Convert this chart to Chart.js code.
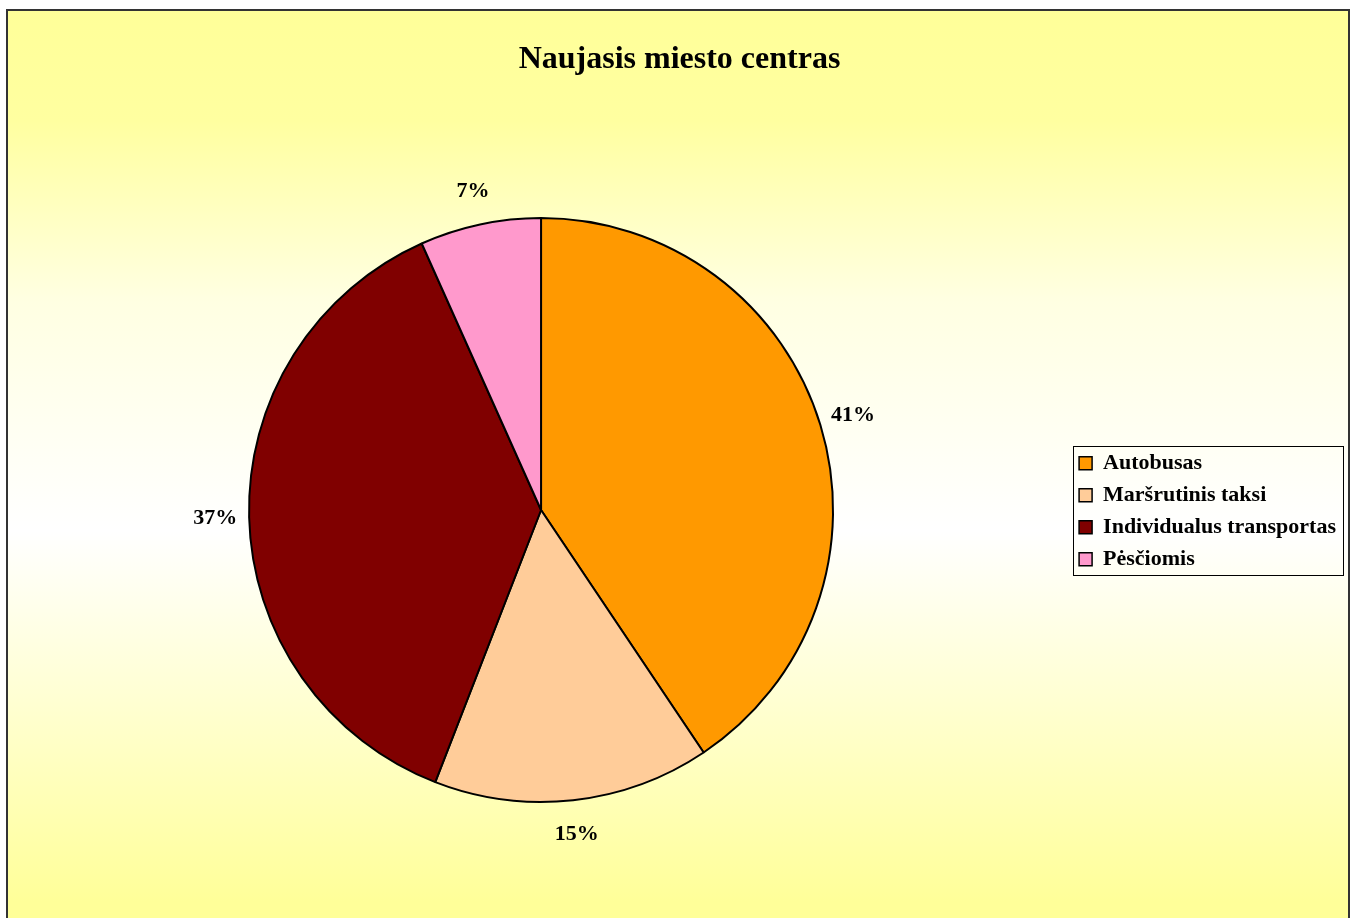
<!DOCTYPE html>
<html>
<head>
<meta charset="utf-8">
<title>Naujasis miesto centras</title>
<script src="https://cdn.jsdelivr.net/npm/chart.js@4"></script>
<style>
  html, body { margin: 0; padding: 0; width: 1356px; height: 918px; overflow: hidden; background: #fff; }
  #frame {
    position: absolute; left: 6px; top: 9px; width: 1340px; height: 1000px;
    border: 2px solid #333;
    background: linear-gradient(to bottom, #ffff99 0px, #ffffa0 110px, #ffffe2 290px, #ffffff 520px, #ffffd2 690px, #ffff99 890px);
  }
  #myChart { position: absolute; left: 0; top: 0; }
</style>
</head>
<body>
<div id="frame"></div>
<canvas id="myChart" width="1356" height="918"></canvas>
<script>
// donnees
const categories = ['Autobusas', 'Maršrutinis taksi', 'Individualus transportas', 'Pėsčiomis'];
const valeurs = [40.6, 15.3, 37.4, 6.7];
const couleurs = ['#ff9900', '#ffcc99', '#800000', '#ff99cc'];

const policeSerif = "'Liberation Serif', 'Times New Roman', serif";

// pourcentages a l'exterieur du camembert + cadre de la legende
const pluginEtiquettes = {
    id: 'etiquettes',
    afterDatasetsDraw(chart) {
        const ctx = chart.ctx;
        const meta = chart.getDatasetMeta(0);
        const total = valeurs.reduce((a, b) => a + b, 0);
        ctx.save();
        ctx.font = 'bold 22px ' + policeSerif;
        ctx.fillStyle = '#000';
        ctx.textAlign = 'center';
        ctx.textBaseline = 'middle';
        meta.data.forEach((arc, i) => {
            const angle = (arc.startAngle + arc.endAngle) / 2;
            const r = arc.outerRadius + 34;
            const x = arc.x + Math.cos(angle) * r;
            const y = arc.y + Math.sin(angle) * r;
            ctx.fillText(Math.round(valeurs[i] / total * 100) + '%', x, y);
        });
        ctx.restore();
    },
    afterDraw(chart) {
        const legende = chart.legend;
        if (!legende || !legende.legendHitBoxes.length) return;
        const boites = legende.legendHitBoxes;
        const gauche = Math.min(...boites.map(b => b.left)) - 6;
        const droite = Math.max(...boites.map(b => b.left + b.width)) + 7;
        const haut = boites[0].top - 6;
        const bas = boites[boites.length - 1].top + boites[boites.length - 1].height + 5;
        const ctx = chart.ctx;
        ctx.save();
        ctx.strokeStyle = '#000';
        ctx.lineWidth = 1;
        ctx.strokeRect(Math.round(gauche) + 0.5, Math.round(haut) + 0.5, Math.round(droite - gauche), Math.round(bas - haut));
        ctx.restore();
    }
};

new Chart(document.getElementById('myChart'), {
    type: 'pie',
    data: {
        labels: categories,
        datasets: [{
            data: valeurs,
            backgroundColor: couleurs,
            borderColor: '#000',
            borderWidth: 2
        }]
    },
    options: {
        responsive: false,
        animation: false,
        layout: {
            padding: { top: 10, left: 13, right: 10, bottom: 115 }
        },
        plugins: {
            title: {
                display: true,
                text: 'Naujasis miesto centras',
                color: '#000',
                font: { family: policeSerif, size: 32, weight: 'bold' },
                padding: { top: 30.8, bottom: 137.8 }
            },
            legend: {
                position: 'right',
                // titre vide : sert seulement a descendre la legende au niveau du centre
                title: {
                    display: true,
                    text: '',
                    font: { size: 12 },
                    padding: { top: 195.1, bottom: 0 }
                },
                labels: {
                    color: '#000',
                    font: { family: policeSerif, size: 22, weight: 'bold' },
                    boxWidth: 13,
                    boxHeight: 13,
                    padding: 10,
                    generateLabels(chart) {
                        const ds = chart.data.datasets[0];
                        return chart.data.labels.map((l, i) => ({
                            text: l,
                            fillStyle: ds.backgroundColor[i],
                            strokeStyle: '#000',
                            lineWidth: 1.5,
                            fontColor: '#000',
                            index: i
                        }));
                    }
                }
            },
            tooltip: { enabled: false }
        }
    },
    plugins: [pluginEtiquettes]
});
</script>
</body>
</html>
